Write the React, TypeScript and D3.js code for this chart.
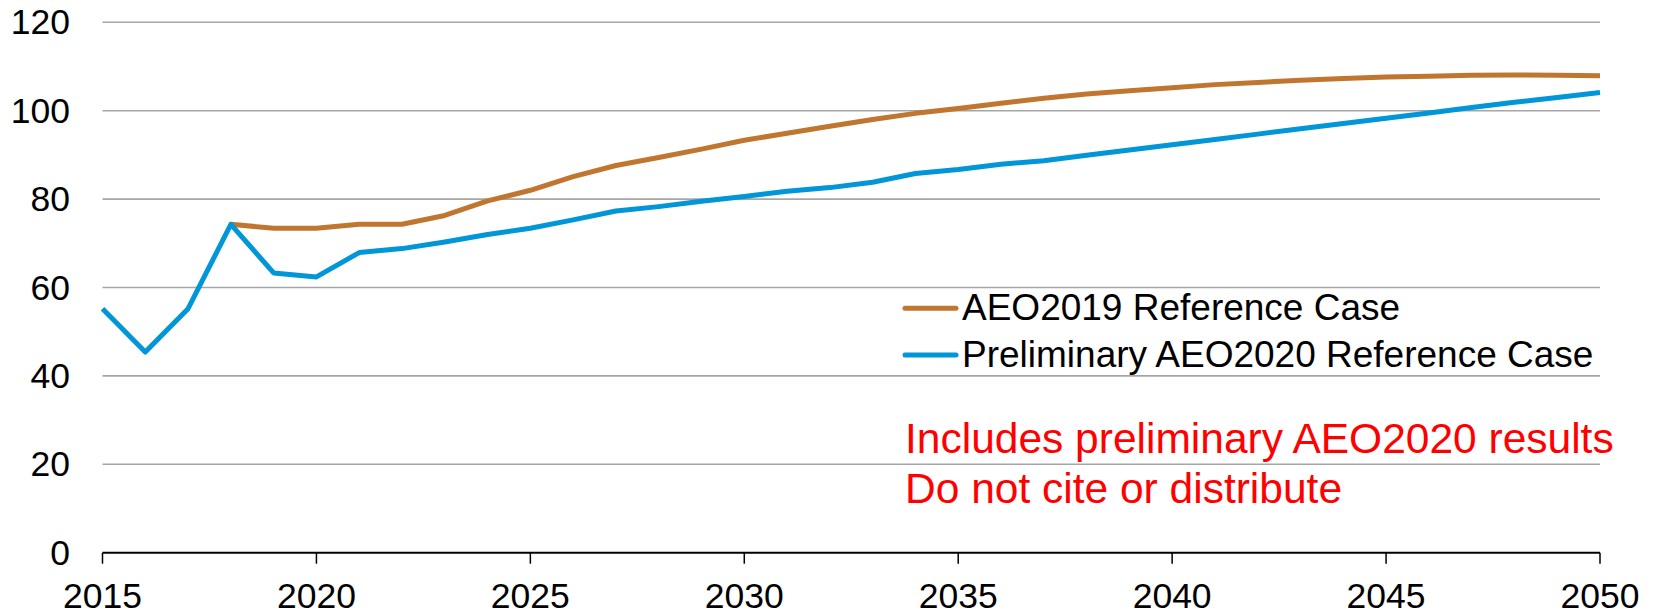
import React from "react";
import * as d3 from "d3";

const years: number[] = d3.range(2015, 2051);

const aeo2019: (number | null)[] = [
  null, null, null, 74.3, 73.4, 73.4, 74.3, 74.3, 76.3, 79.6,
  82.0, 85.1, 87.6, 89.4, 91.3, 93.3, 94.9, 96.5, 98.0, 99.4,
  100.5, 101.7, 102.8, 103.8, 104.5, 105.2, 105.9, 106.4, 106.9, 107.3,
  107.6, 107.8, 108.0, 108.1, 108.0, 107.9,
];

const aeo2020: number[] = [
  55.2, 45.4, 55.2, 74.3, 63.3, 62.4, 67.9, 68.8, 70.3, 72.0,
  73.4, 75.3, 77.3, 78.3, 79.5, 80.6, 81.8, 82.6, 83.8, 85.8,
  86.7, 87.9, 88.7, 89.9, 91.1, 92.3, 93.5, 94.7, 95.9, 97.1,
  98.3, 99.5, 100.7, 101.9, 103.0, 104.1,
];

const yTicks: number[] = [0, 20, 40, 60, 80, 100, 120];
const xTicks: number[] = [2015, 2020, 2025, 2030, 2035, 2040, 2045, 2050];

const seriesNames = ["AEO2019 Reference Case", "Preliminary AEO2020 Reference Case"];
const seriesColors = ["#c0762f", "#0096d7"];
const noteLines = ["Includes preliminary AEO2020 results", "Do not cite or distribute"];

const W = 1657;
const H = 614;
const FONT = "'Liberation Sans', Arial, sans-serif";

export default function App() {
  const x = d3.scaleLinear().domain([2015, 2050]).range([102.5, 1600]);
  const y = d3.scaleLinear().domain([0, 120]).range([552.7, 22.3]);

  const line = d3
    .line<[number, number | null]>()
    .defined((d) => d[1] !== null)
    .x((d) => x(d[0]))
    .y((d) => y(d[1] as number));

  const d2019 = line(years.map((yr, i) => [yr, aeo2019[i]] as [number, number | null])) || "";
  const d2020 = line(years.map((yr, i) => [yr, aeo2020[i]] as [number, number | null])) || "";

  return (
    <svg
      width={W}
      height={H}
      style={{ position: "absolute", left: 0, top: 0, background: "#fff" }}
      fontFamily={FONT}
    >
      {yTicks.filter((t) => t > 0).map((t) => (
        <line key={"g" + t} x1={x(2015)} x2={x(2050)} y1={y(t)} y2={y(t)} stroke="#a6a6a6" strokeWidth={1.6} />
      ))}
      {yTicks.map((t) => (
        <text key={"yl" + t} x={70} y={y(t)} textAnchor="end" dominantBaseline="central" fontSize={35.5} fill="#000">
          {t}
        </text>
      ))}
      <line x1={x(2015)} x2={x(2050)} y1={y(0)} y2={y(0)} stroke="#000" strokeWidth={2} />
      {xTicks.map((t) => (
        <g key={"xt" + t}>
          <line x1={x(t)} x2={x(t)} y1={y(0)} y2={y(0) + 11} stroke="#000" strokeWidth={1.5} />
          <text x={x(t)} y={608} textAnchor="middle" fontSize={35.5} fill="#000">
            {t}
          </text>
        </g>
      ))}
      <path d={d2019} fill="none" stroke={seriesColors[0]} strokeWidth={5} strokeLinejoin="round" />
      <path d={d2020} fill="none" stroke={seriesColors[1]} strokeWidth={5} strokeLinejoin="round" />
      {seriesNames.map((name, i) => {
        const ly = i === 0 ? 308.3 : 355;
        const ty = i === 0 ? 320 : 366.5;
        return (
          <g key={"lg" + i}>
            <line x1={905} x2={956} y1={ly} y2={ly} stroke={seriesColors[i]} strokeWidth={5} strokeLinecap="round" />
            <text x={962} y={ty} fontSize={37} fill="#000">
              {name}
            </text>
          </g>
        );
      })}
      {noteLines.map((s, i) => (
        <text key={"n" + i} x={905} y={i === 0 ? 453 : 502.5} fontSize={42.5} fill="#ff0000">
          {s}
        </text>
      ))}
    </svg>
  );
}
